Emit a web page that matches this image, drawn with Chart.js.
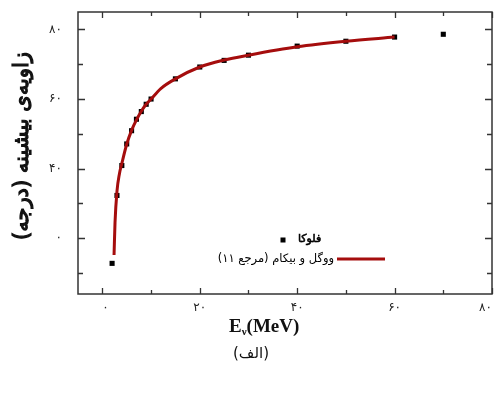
<!DOCTYPE html>
<html>
<head>
<meta charset="utf-8">
<script src="https://cdn.jsdelivr.net/npm/chart.js@4"></script>
<style>
  body { margin: 0; background: #fff; }
  #wrap { width: 496px; height: 399px; }
</style>
</head>
<body>
<div id="wrap"><canvas id="chart" width="496" height="399"></canvas></div>
<script>
// داده‌ها (خوانده شده از شکل)
const flukaX = [2, 3, 4, 5, 6, 7, 8, 9, 10, 15, 20, 25, 30, 40, 50, 60, 70];
const flukaY = [12.8, 32.3, 40.9, 47.1, 50.9, 54.2, 56.4, 58.5, 60.0, 65.8, 69.2, 71.1, 72.6, 75.2, 76.6, 77.8, 78.6];

const vogelX = [2.4, 2.6, 3, 3.5, 4, 5, 6, 7, 8, 9, 10, 12, 15, 20, 25, 30, 40, 50, 60];
const vogelY = [15.2, 24.5, 33.5, 38.5, 41.5, 47.0, 51.0, 54.0, 56.5, 58.5, 60.0, 63.0, 65.8, 69.2, 71.2, 72.6, 75.0, 76.6, 77.8];

const xTicks = [0, 20, 40, 60, 80];
const xTickLabels = ["۰", "۲۰", "۴۰", "۶۰", "۸۰"];
const yTicks = [20, 40, 60, 80];
const yTickLabels = ["۰", "۴۰", "۶۰", "۸۰"];

const flukaLabel = "فلوکا";
const vogelLabel = "ووگل و بیکام (مرجع ۱۱)";
const yTitle = "زاویه‌ی بیشینه (درجه)";
const panelLabel = "(الف)";

const frameColor = "#333";
const curveColor = "#a50d0d";

function toPoints(xs, ys) {
  return xs.map((x, i) => ({ x: x, y: ys[i] }));
}

// متن پررنگ با فونت معمولی (برای اتصال درست حروف)
function boldText(ctx, text, x, y, w) {
  ctx.lineWidth = w;
  ctx.strokeStyle = ctx.fillStyle;
  ctx.strokeText(text, x, y);
  ctx.fillText(text, x, y);
}

// تیک‌های داخلی و قاب و عنوان‌ها و راهنما
const decorPlugin = {
  id: "decor",
  afterDraw(chart) {
    const ctx = chart.ctx;
    const a = chart.chartArea;
    const sx = chart.scales.x;
    const sy = chart.scales.y;
    ctx.save();
    ctx.strokeStyle = frameColor;
    ctx.lineWidth = 1.5;
    ctx.strokeRect(a.left, a.top, a.right - a.left, a.bottom - a.top);

    ctx.lineWidth = 1.3;
    for (let v = 0; v <= 80; v += 10) {
      const px = Math.round(sx.getPixelForValue(v)) + 0.5;
      const len = v % 20 === 0 ? 6 : 4;
      ctx.beginPath();
      ctx.moveTo(px, a.bottom); ctx.lineTo(px, a.bottom - len);
      ctx.moveTo(px, a.top); ctx.lineTo(px, a.top + len);
      ctx.stroke();
    }
    for (let v = 10; v <= 80; v += 10) {
      const py = Math.round(sy.getPixelForValue(v)) + 0.5;
      const len = v % 20 === 0 ? 7 : 5;
      ctx.beginPath();
      ctx.moveTo(a.left, py); ctx.lineTo(a.left + len, py);
      ctx.moveTo(a.right, py); ctx.lineTo(a.right - len, py);
      ctx.stroke();
    }

    // عنوان محور عمودی
    ctx.fillStyle = "#111";
    ctx.save();
    ctx.translate(23, 146);
    ctx.rotate(-Math.PI / 2);
    ctx.textAlign = "center";
    ctx.textBaseline = "middle";
    ctx.font = "21px 'DejaVu Sans'";
    boldText(ctx, yTitle, 0, 0, 1.2);
    ctx.restore();

    // عنوان محور افقی
    ctx.fillStyle = "#111";
    ctx.textBaseline = "alphabetic";
    ctx.textAlign = "left";
    ctx.font = "bold 19px 'Liberation Serif'";
    let tx = 229;
    ctx.fillText("E", tx, 332);
    tx += ctx.measureText("E").width;
    ctx.font = "bold 11px 'Liberation Serif'";
    ctx.fillText("ν", tx, 335);
    tx += ctx.measureText("ν").width;
    ctx.font = "bold 19px 'Liberation Serif'";
    ctx.fillText("(MeV)", tx, 332);

    ctx.textAlign = "center";
    ctx.font = "15px 'DejaVu Sans'";
    ctx.fillText(panelLabel, 251, 358);

    // راهنما
    ctx.fillStyle = "#000";
    ctx.fillRect(280.5, 237.5, 5, 5);
    ctx.textAlign = "left";
    ctx.textBaseline = "middle";
    ctx.font = "11px 'DejaVu Sans'";
    boldText(ctx, flukaLabel, 298, 239, 0.6);

    ctx.strokeStyle = curveColor;
    ctx.lineWidth = 3;
    ctx.beginPath();
    ctx.moveTo(337, 259); ctx.lineTo(385, 259);
    ctx.stroke();
    ctx.textAlign = "right";
    ctx.font = "11.5px 'DejaVu Sans'";
    ctx.fillText(vogelLabel, 334, 259);
    ctx.restore();
  }
};

const chart = new Chart(document.getElementById("chart"), {
  type: "scatter",
  data: {
    datasets: [
      {
        label: vogelLabel,
        data: toPoints(vogelX, vogelY),
        showLine: true,
        borderColor: curveColor,
        borderWidth: 3,
        pointRadius: 0,
        cubicInterpolationMode: "monotone",
        order: 0
      },
      {
        label: flukaLabel,
        data: toPoints(flukaX, flukaY),
        pointStyle: "rect",
        pointRadius: 3.6,
        backgroundColor: "#000",
        borderColor: "#000",
        borderWidth: 0,
        order: 1
      }
    ]
  },
  options: {
    responsive: false,
    animation: false,
    layout: { padding: { top: 12, right: 1, left: 0, bottom: 0 } },
    plugins: {
      legend: { display: false },
      tooltip: { enabled: false }
    },
    scales: {
      x: {
        type: "linear",
        min: -5,
        max: 80,
        afterBuildTicks: (scale) => { scale.ticks = xTicks.map((v) => ({ value: v })); },
        afterFit: (scale) => {
          scale.height = 105;
          scale.paddingLeft = 0; scale.paddingRight = 0;
          scale.paddingTop = 0; scale.paddingBottom = 0;
        },
        grid: { display: false, drawTicks: false },
        border: { display: false },
        ticks: {
          align: "inner",
          padding: 7,
          maxRotation: 0,
          autoSkip: false,
          color: "#222",
          font: { family: "DejaVu Sans", size: 12 },
          callback: (v) => xTickLabels[xTicks.indexOf(v)]
        }
      },
      y: {
        type: "linear",
        min: 4,
        max: 85,
        afterBuildTicks: (scale) => { scale.ticks = yTicks.map((v) => ({ value: v })); },
        afterFit: (scale) => {
          scale.width = 78;
          scale.paddingLeft = 0; scale.paddingRight = 0;
          scale.paddingTop = 0; scale.paddingBottom = 0;
        },
        grid: { display: false, drawTicks: false },
        border: { display: false },
        ticks: {
          padding: 16,
          autoSkip: false,
          color: "#222",
          font: { family: "DejaVu Sans", size: 12 },
          callback: (v) => yTickLabels[yTicks.indexOf(v)]
        }
      }
    }
  },
  plugins: [decorPlugin]
});
</script>
</body>
</html>
